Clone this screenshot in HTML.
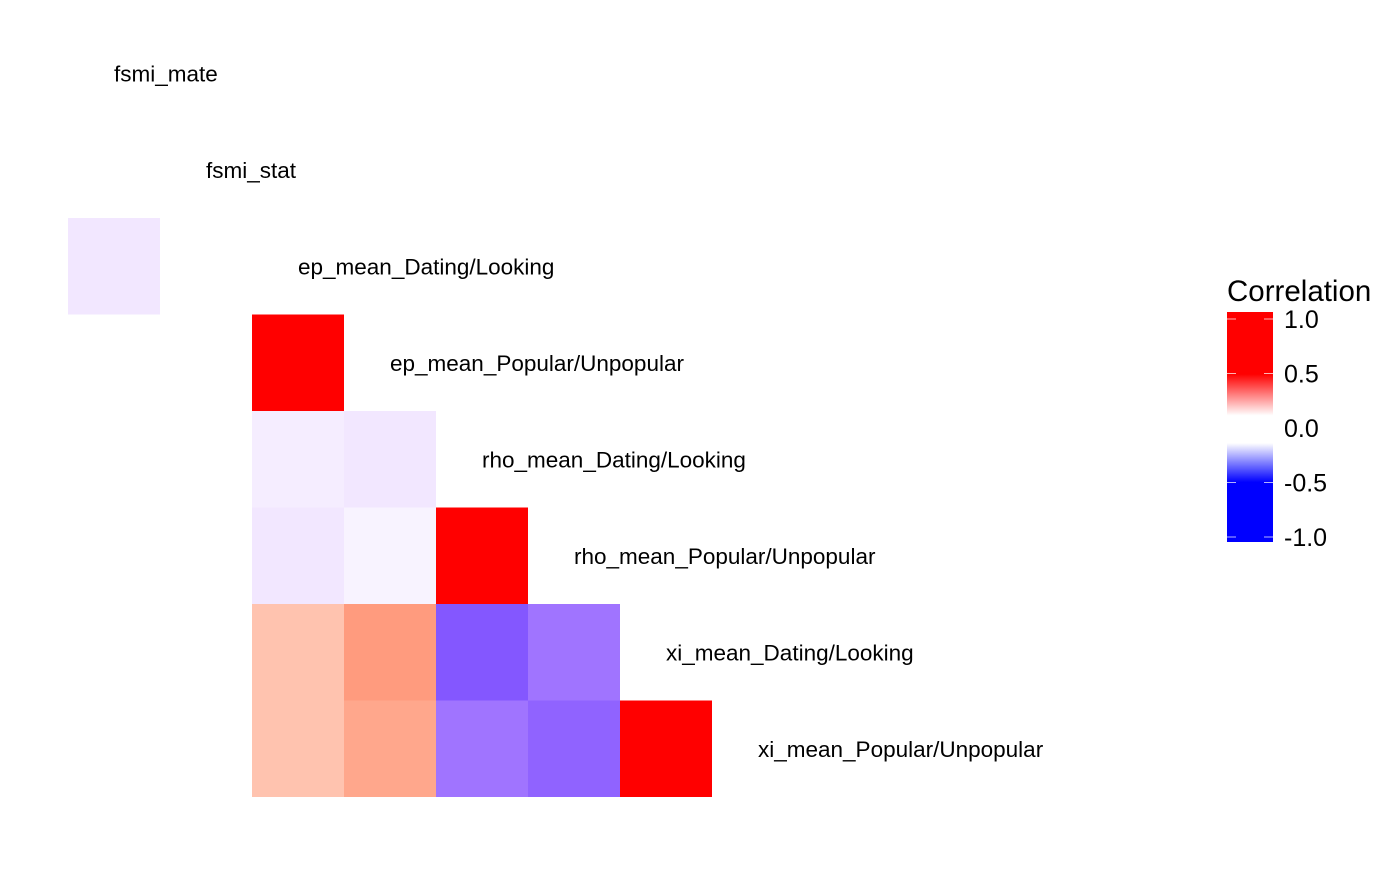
<!DOCTYPE html>
<html><head><meta charset="utf-8"><style>
html,body{margin:0;padding:0;background:#fff;}
svg text{font-family:"Liberation Sans",Arial,sans-serif;}
</style></head><body>
<svg id="chart" width="1400" height="865">
<defs>
<linearGradient id="lg" x1="0" y1="0" x2="0" y2="1">
<stop offset="0" stop-color="#ff0000"/><stop offset="0.27" stop-color="#ff0000"/>
<stop offset="0.45" stop-color="#ffffff"/><stop offset="0.57" stop-color="#ffffff"/>
<stop offset="0.74" stop-color="#0000ff"/><stop offset="1" stop-color="#0000ff"/>
</linearGradient>
</defs>
<g id="cells"></g>
<g id="labels"></g>
<g>
<text x="1227" y="301" font-size="29.5">Correlation</text>
<rect x="1227" y="312" width="46" height="230" fill="url(#lg)"/>
<g id="ticks"></g>
</g>
</svg>
<script>
const vars=["fsmi_mate","fsmi_stat","ep_mean_Dating/Looking","ep_mean_Popular/Unpopular","rho_mean_Dating/Looking","rho_mean_Popular/Unpopular","xi_mean_Dating/Looking","xi_mean_Popular/Unpopular"];
// lower-triangle values, row i has i entries (null = NA)
const corr=[
[],
[null],
[-0.14,null],
[null,null,1.0],
[null,null,-0.13,-0.14],
[null,null,-0.14,-0.12,1.0],
[null,null,0.26,0.33,-0.39,-0.34],
[null,null,0.26,0.31,-0.34,-0.37,1.0]
];
const legendTicks=[1.0,0.5,0.0,-0.5,-1.0];
const x0=68,cw=92,y0=25,rh=96.5;
const xs=c=>x0+c*cw, ys=r=>y0+r*rh;
function lab2rgb(L,a,b){let y=(L+16)/116,x=a/500+y,z=y-b/200;
 const f=t=>t**3>0.008856?t**3:(t-16/116)/7.787;
 x=0.95047*f(x);y=f(y);z=1.08883*f(z);
 let r=x*3.2406+y*-1.5372+z*-0.4986,g=x*-0.9689+y*1.8758+z*0.0415,bb=x*0.0557+y*-0.2040+z*1.0570;
 const c=v=>Math.round(255*Math.max(0,Math.min(1,v>0.0031308?1.055*v**(1/2.4)-0.055:12.92*v)));
 return `rgb(${c(r)},${c(g)},${c(bb)})`;}
function color(v){const W=[100,0,0],R=[53.24,80.09,67.2],B=[32.3,79.19,-107.86];
 let t,E;if(v>=0){t=Math.max(0,Math.min(1,(v-0.15)/0.35));E=R;}else{t=Math.max(0,Math.min(1,(-v-0.1)/0.4));E=B;}
 return lab2rgb(W[0]+(E[0]-W[0])*t,W[1]+(E[1]-W[1])*t,W[2]+(E[2]-W[2])*t);}
const NS="http://www.w3.org/2000/svg";
const cg=document.getElementById('cells');
corr.forEach((row,r)=>row.forEach((v,c)=>{if(v===null)return;
 const el=document.createElementNS(NS,'rect');
 el.setAttribute('x',xs(c));el.setAttribute('y',ys(r));el.setAttribute('width',cw);el.setAttribute('height',rh);
 el.setAttribute('fill',color(v));
 
 
 cg.appendChild(el);}));
const lg=document.getElementById('labels');
vars.forEach((n,i)=>{const t=document.createElementNS(NS,'text');
 t.setAttribute('x',xs(i)+cw/2);t.setAttribute('y',ys(i)+rh/2+8);t.setAttribute('font-size','22.5');
 t.textContent=n;
 
 
 lg.appendChild(t);});
const tg=document.getElementById('ticks');
const ly=v=>428-v*109;
legendTicks.forEach(v=>{const t=document.createElementNS(NS,'text');
 t.setAttribute('x',1284);t.setAttribute('y',ly(v)+9);t.setAttribute('font-size','25');
 t.textContent=v.toFixed(1);
 
 
 tg.appendChild(t);
 [1227,1264].forEach(x=>{const l=document.createElementNS(NS,'line');
  l.setAttribute('x1',x);l.setAttribute('x2',x+9);l.setAttribute('y1',ly(v));l.setAttribute('y2',ly(v));
  l.setAttribute('stroke','#fff');l.setAttribute('stroke-opacity','0.7');
  
  
  tg.appendChild(l);});});
</script>
</body></html>
